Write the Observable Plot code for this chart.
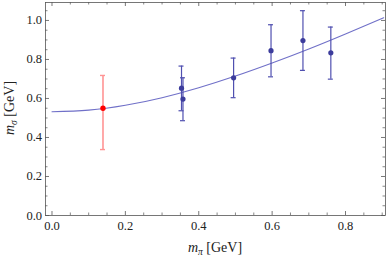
<!DOCTYPE html>
<html><head><meta charset="utf-8">
<script src="https://cdn.jsdelivr.net/npm/d3@7"></script>
<script src="https://cdn.jsdelivr.net/npm/@observablehq/plot@0.6"></script>
<style>body{margin:0;background:#fff}</style>
</head><body><div id="chart"></div>
<script>
// Physical point (red)
const physX = [0.139];
const physY = [0.550];
const physLo = [0.338];
const physHi = [0.718];
// Lattice points (blue)
const latX = [0.353, 0.357, 0.495, 0.597, 0.684, 0.760];
const latY = [0.653, 0.597, 0.706, 0.845, 0.897, 0.834];
const latLo = [0.537, 0.486, 0.604, 0.711, 0.744, 0.699];
const latHi = [0.766, 0.706, 0.807, 0.978, 1.050, 0.966];
// Fit curve
const curveX = [0, 0.1, 0.2, 0.3, 0.4, 0.5, 0.6, 0.7, 0.8, 0.904];
const curveY = [0.532, 0.540, 0.565, 0.604, 0.655, 0.715, 0.782, 0.854, 0.931, 1.014];
// Ticks
const majorX = [0, 0.2, 0.4, 0.6, 0.8];
const minorX = [0.05,0.1,0.15,0.25,0.3,0.35,0.45,0.5,0.55,0.65,0.7,0.75,0.85,0.9];
const majorY = [0, 0.2, 0.4, 0.6, 0.8, 1.0];
const minorY = [0.05,0.1,0.15,0.25,0.3,0.35,0.45,0.5,0.55,0.65,0.7,0.75,0.85,0.9,0.95,1.05];

const W = 390, H = 258, mL = 45, mR = 5, mT = 2, mB = 43;
const iW = W - mL - mR, iH = H - mT - mB;

const phys = physX.map((x,i)=>({x, y: physY[i], lo: physLo[i], hi: physHi[i]}));
const lat = latX.map((x,i)=>({x, y: latY[i], lo: latLo[i], hi: latHi[i]}));
const curve = curveX.map((x,i)=>({x, y: curveY[i]}));

const blue = "#3c3c9c", red = "#ff0000";
const fmt = d3.format(".1f");

const plot = Plot.plot({
  width: W, height: H,
  marginLeft: mL, marginRight: mR, marginTop: mT, marginBottom: mB,
  style: {fontFamily: "'Liberation Serif', 'DejaVu Serif', serif", fontSize: "12.5px", color: "#222", background: "#fff"},
  x: {domain: [-0.0177, 0.909]},
  y: {domain: [0, 1.092]},
  marks: [
    Plot.frame({stroke: "#555", strokeWidth: 0.8}),
    // inward ticks on all four sides
    Plot.tickX(majorX, {x: d=>d, insetTop: iH-4, stroke: "#555", strokeWidth: 0.8}),
    Plot.tickX(majorX, {x: d=>d, insetBottom: iH-4, stroke: "#555", strokeWidth: 0.8}),
    Plot.tickX(minorX, {x: d=>d, insetTop: iH-2.5, stroke: "#555", strokeWidth: 0.7}),
    Plot.tickX(minorX, {x: d=>d, insetBottom: iH-2.5, stroke: "#555", strokeWidth: 0.7}),
    Plot.tickY(majorY, {y: d=>d, insetRight: iW-4, stroke: "#555", strokeWidth: 0.8}),
    Plot.tickY(majorY, {y: d=>d, insetLeft: iW-4, stroke: "#555", strokeWidth: 0.8}),
    Plot.tickY(minorY, {y: d=>d, insetRight: iW-2.5, stroke: "#555", strokeWidth: 0.7}),
    Plot.tickY(minorY, {y: d=>d, insetLeft: iW-2.5, stroke: "#555", strokeWidth: 0.7}),
    Plot.axisX(majorX, {tickSize: 0, tickPadding: 6, tickFormat: fmt, label: null}),
    Plot.axisY(majorY, {tickSize: 0, tickPadding: 3.5, tickFormat: fmt, label: null}),
    // fit curve
    Plot.line(curve, {x: "x", y: "y", curve: "natural", stroke: "#7070c8", strokeWidth: 1.1}),
    // red error bar
    Plot.ruleX(phys, {x: "x", y1: "lo", y2: "hi", stroke: "#ff9494", strokeWidth: 1.6}),
    Plot.ruleY(phys, {y: "lo", x1: "x", x2: "x", insetLeft: -2.5, insetRight: -2.5, stroke: "#ff9494", strokeWidth: 1.4}),
    Plot.ruleY(phys, {y: "hi", x1: "x", x2: "x", insetLeft: -2.5, insetRight: -2.5, stroke: "#ff9494", strokeWidth: 1.4}),
    Plot.dot(phys, {x: "x", y: "y", r: 2.7, fill: red, stroke: "none"}),
    // blue error bars
    Plot.ruleX(lat, {x: "x", y1: "lo", y2: "hi", stroke: "#5050b0", strokeWidth: 1.2}),
    Plot.ruleY(lat, {y: "lo", x1: "x", x2: "x", insetLeft: -2.5, insetRight: -2.5, stroke: "#5050b0", strokeWidth: 1.2}),
    Plot.ruleY(lat, {y: "hi", x1: "x", x2: "x", insetLeft: -2.5, insetRight: -2.5, stroke: "#5050b0", strokeWidth: 1.2}),
    Plot.dot(lat, {x: "x", y: "y", r: 2.6, fill: blue, stroke: "none"})
  ]
});

const svg = d3.select(plot);
const lab = svg.append("g").attr("font-family", "'Liberation Serif', serif").attr("font-size", 14).attr("fill", "#222");
const xl = lab.append("text").attr("x", 215).attr("y", 252).attr("text-anchor", "middle");
xl.append("tspan").attr("font-style", "italic").text("m");
xl.append("tspan").attr("font-style", "italic").attr("font-size", 9.5).attr("dy", 3).text("π");
xl.append("tspan").attr("dy", -3).text(" [GeV]");
const yl = lab.append("text").attr("transform", "translate(14,108) rotate(-90)").attr("text-anchor", "middle");
yl.append("tspan").attr("font-style", "italic").text("m");
yl.append("tspan").attr("font-style", "italic").attr("font-size", 9.5).attr("dy", 3).text("σ");
yl.append("tspan").attr("dy", -3).text(" [GeV]");

document.getElementById("chart").appendChild(plot);
</script>
</body></html>
